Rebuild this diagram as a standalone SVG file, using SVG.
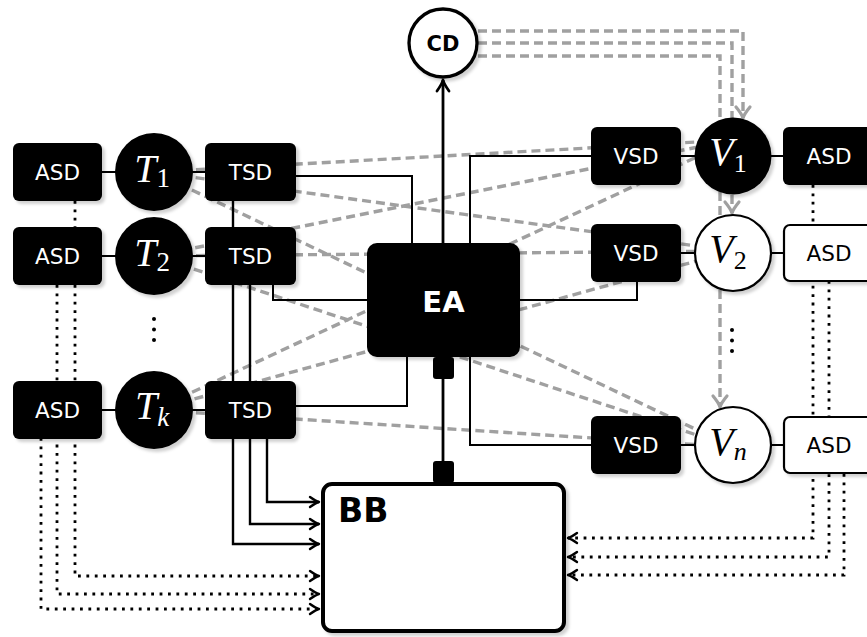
<svg xmlns="http://www.w3.org/2000/svg" width="867" height="637" viewBox="0 0 867 637">
<defs>
<style>
.blk{fill:#000;filter:url(#sh)}
.wht{fill:#fff;stroke:#000;stroke-width:2.2;filter:url(#sh)}
.lbl{font-family:"DejaVu Sans",sans-serif;font-size:21.5px;fill:#fff;text-anchor:middle}
.dark{fill:#000}
.bold{font-family:"DejaVu Sans",sans-serif;font-weight:bold;text-anchor:middle}
.math{font-family:"Liberation Serif",serif;font-size:40px;text-anchor:middle}
.it{font-style:italic}
.gd{stroke:#a0a0a0;stroke-width:3.4;stroke-dasharray:9 5;fill:none}
.ln{stroke:#000;stroke-width:2;fill:none}
.ar{stroke:#000;stroke-width:2.4;fill:none;marker-end:url(#arr)}
.dt{stroke:#000;stroke-width:2.8;stroke-dasharray:2.8 5.6;fill:none;marker-end:url(#arr)}
</style>
<filter id="sh" x="-20%" y="-20%" width="150%" height="150%">
<feDropShadow dx="3" dy="3" stdDeviation="1.4" flood-color="#000" flood-opacity="0.18"/>
</filter>
<marker id="arr" markerUnits="userSpaceOnUse" viewBox="-12 -8 14 16" markerWidth="14" markerHeight="16" refX="0" refY="0" orient="auto" style="overflow:visible">
<path d="M-9,-5 Q-3,-0.8 0,0 Q-3,0.8 -9,5" fill="none" stroke="#000" stroke-width="2.4" stroke-linecap="round" stroke-linejoin="round"/>
</marker>
<marker id="arrT" markerUnits="userSpaceOnUse" viewBox="-14 -9 16 18" markerWidth="16" markerHeight="18" refX="0" refY="0" orient="auto" style="overflow:visible">
<path d="M-11,-6 Q-4,-1 0,0 Q-4,1 -11,6" fill="none" stroke="#000" stroke-width="2.8" stroke-linecap="round" stroke-linejoin="round"/>
</marker>
<marker id="arrG" markerUnits="userSpaceOnUse" viewBox="-14 -9 16 18" markerWidth="16" markerHeight="18" refX="0" refY="0" orient="auto" style="overflow:visible">
<path d="M-11,-7 Q-4,-1.2 0,0 Q-4,1.2 -11,7" fill="none" stroke="#a0a0a0" stroke-width="3.2" stroke-linecap="round" stroke-linejoin="round"/>
</marker>
</defs>
<rect width="867" height="637" fill="#fff"/>

<g id="connectors">
<path class="gd" d="M154,172 L733,140"/>
<path class="gd" d="M154,172 L733,251"/>
<path class="gd" d="M154,172 L733,447"/>
<path class="gd" d="M154,256 L733,140"/>
<path class="gd" d="M154,256 L733,251"/>
<path class="gd" d="M154,256 L733,447"/>
<path class="gd" d="M154,410 L733,140"/>
<path class="gd" d="M154,410 L733,251"/>
<path class="gd" d="M154,410 L733,447"/>
<path class="gd" d="M450,31 H743 V118" marker-end="url(#arrG)"/>
<path class="gd" d="M450,43 H732 V213" marker-end="url(#arrG)"/>
<path class="gd" d="M450,56 H720 V407" marker-end="url(#arrG)"/>
<path class="ln" d="M102,172 H205 M102,256 H205 M102,410 H205"/>
<path class="ln" d="M681,156 H783 M681,253 H783 M681,445 H783"/>
<path class="ln" d="M296,176 H412 V243"/>
<path class="ln" d="M273,285 V300 H367"/>
<path class="ln" d="M296,406 H407 V357"/>
<path class="ln" d="M591,156 H470 V243"/>
<path class="ln" d="M637,282 V300 H520"/>
<path class="ln" d="M591,445 H470 V357"/>
<path class="ar" d="M233,190 V544 H319"/>
<path class="ar" d="M250,270 V524 H319"/>
<path class="ar" d="M267,425 V502 H319"/>
<path class="dt" d="M75,201 V576 H319"/>
<path class="dt" d="M57,285 V594 H319"/>
<path class="dt" d="M41,438 V609 H319"/>
<path class="dt" d="M813,185 V538 H568"/>
<path class="dt" d="M829,281 V557 H568"/>
<path class="dt" d="M844,474 V575 H568"/>
<path d="M443,243 V80" stroke="#000" stroke-width="2.8" fill="none" marker-end="url(#arrT)"/>
<path d="M443,379 V462" stroke="#000" stroke-width="2.8" fill="none"/>
</g>

<g id="asd-l1"><rect class="blk" x="13" y="143" width="89" height="58" rx="6"/><text class="lbl" x="57.5" y="180">ASD</text></g>
<g id="asd-l2"><rect class="blk" x="13" y="227" width="89" height="58" rx="6"/><text class="lbl" x="57.5" y="264">ASD</text></g>
<g id="asd-lk"><rect class="blk" x="13" y="381" width="89" height="58" rx="6"/><text class="lbl" x="57.5" y="418">ASD</text></g>

<g id="t1"><circle class="blk" cx="154" cy="172" r="39"/><text class="math" x="152" y="182" fill="#fff"><tspan class="it">T</tspan><tspan font-size="27" dy="5">1</tspan></text></g>
<g id="t2"><circle class="blk" cx="154" cy="256" r="39"/><text class="math" x="152" y="266" fill="#fff"><tspan class="it">T</tspan><tspan font-size="27" dy="5">2</tspan></text></g>
<g id="tk"><circle class="blk" cx="154" cy="410" r="39"/><text class="math" x="152" y="419" fill="#fff"><tspan class="it">T</tspan><tspan class="it" font-size="27" dy="7">k</tspan></text></g>

<g id="tsd1"><rect class="blk" x="205" y="143" width="91" height="58" rx="6"/><text class="lbl" x="250.5" y="180">TSD</text></g>
<g id="tsd2"><rect class="blk" x="205" y="227" width="91" height="58" rx="6"/><text class="lbl" x="250.5" y="264">TSD</text></g>
<g id="tsdk"><rect class="blk" x="205" y="381" width="91" height="58" rx="6"/><text class="lbl" x="250.5" y="418">TSD</text></g>

<g id="ea"><rect class="blk" x="367" y="243" width="153" height="114" rx="10"/><text class="bold" x="443.5" y="312" font-size="29" fill="#fff">EA</text></g>

<g id="cd"><circle cx="443" cy="43" r="34" fill="#fff" stroke="#000" stroke-width="3.3" filter="url(#sh)"/><text class="bold" x="443" y="51" font-size="21" fill="#000">CD</text></g>

<g id="bb"><rect x="323" y="484" width="241" height="147" rx="9" fill="#fff" stroke="#000" stroke-width="4" filter="url(#sh)"/><text class="bold" x="338" y="522" font-size="33" fill="#000" style="text-anchor:start">BB</text></g>

<g id="ports"><rect x="433" y="357" width="21" height="22" rx="3" fill="#000"/><rect x="433" y="461" width="21" height="22" rx="3" fill="#000"/></g>

<g id="vsd1"><rect class="blk" x="591" y="127" width="90" height="58" rx="6"/><text class="lbl" x="636" y="164">VSD</text></g>
<g id="vsd2"><rect class="blk" x="591" y="224" width="90" height="58" rx="6"/><text class="lbl" x="636" y="261">VSD</text></g>
<g id="vsdn"><rect class="blk" x="591" y="416" width="90" height="58" rx="6"/><text class="lbl" x="636" y="453">VSD</text></g>

<g id="v1"><circle class="blk" cx="733" cy="156" r="38.5"/><text class="math" x="728" y="165" font-size="38" fill="#fff"><tspan class="it">V</tspan><tspan font-size="26" dy="7">1</tspan></text></g>
<g id="v2"><circle class="wht" cx="733" cy="253" r="38"/><text class="math" x="728" y="262" font-size="38" fill="#000"><tspan class="it">V</tspan><tspan font-size="26" dy="7">2</tspan></text></g>
<g id="vn"><circle class="wht" cx="733" cy="445" r="38"/><text class="math" x="728" y="455" font-size="38" fill="#000"><tspan class="it">V</tspan><tspan class="it" font-size="26" dy="5">n</tspan></text></g>

<g id="asd-r1"><rect class="blk" x="783" y="127" width="92" height="58" rx="6"/><text class="lbl" x="829" y="164">ASD</text></g>
<g id="asd-r2"><rect class="wht" x="784" y="225" width="92" height="56" rx="6"/><text class="lbl dark" x="829" y="261">ASD</text></g>
<g id="asd-rn"><rect class="wht" x="784" y="417" width="92" height="56" rx="6"/><text class="lbl dark" x="829" y="453">ASD</text></g>

<g id="dots">
<circle cx="154" cy="319" r="2" fill="#000"/><circle cx="154" cy="329.5" r="2" fill="#000"/><circle cx="154" cy="340" r="2" fill="#000"/>
<circle cx="732" cy="330" r="2" fill="#000"/><circle cx="732" cy="340.5" r="2" fill="#000"/><circle cx="732" cy="351" r="2" fill="#000"/>
</g>
</svg>
